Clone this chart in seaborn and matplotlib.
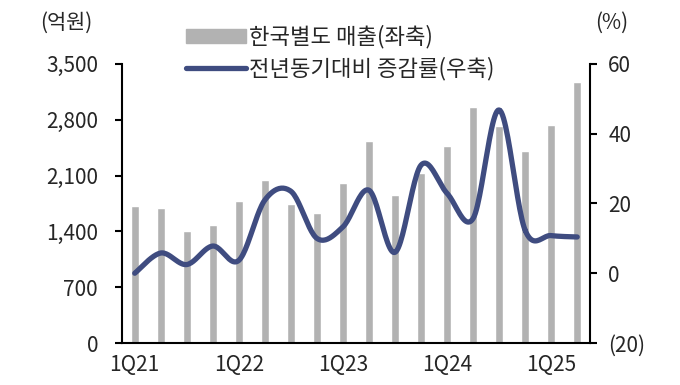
import numpy as np
import pandas as pd
import matplotlib
matplotlib.use("Agg")
import matplotlib.pyplot as plt
from matplotlib.patches import Patch
from matplotlib.lines import Line2D
import seaborn as sns

sns.set_theme(style="white")
plt.rcParams['font.family'] = ['Noto Sans CJK KR', 'DejaVu Sans']
plt.rcParams['axes.unicode_minus'] = False

# 분기
quarters = ['1Q21', '2Q21', '3Q21', '4Q21', '1Q22', '2Q22', '3Q22', '4Q22',
            '1Q23', '2Q23', '3Q23', '4Q23', '1Q24', '2Q24', '3Q24', '4Q24',
            '1Q25', '2Q25']
# 한국별도 매출 (억원)
sales = [1715, 1695, 1405, 1475, 1785, 2045, 1745, 1630,
         2010, 2535, 1850, 2135, 2465, 2965, 2725, 2405,
         2740, 3275]
# 전년동기대비 증감률 (%)
yoy = [0.0, 5.8, 2.5, 7.8, 3.7, 21.0, 23.5, 10.0,
       13.3, 23.8, 6.0, 31.0, 22.9, 15.7, 46.8, 12.3,
       10.8, 10.4]

left_ticks = [0, 700, 1400, 2100, 2800, 3500]
right_ticks = [-20, 0, 20, 40, 60]
label_quarters = ['1Q21', '1Q22', '1Q23', '1Q24', '1Q25']

df = pd.DataFrame({'quarter': quarters, 'sales': sales, 'yoy': yoy})

bar_color = '#B2B2B2'
line_color = '#3F4C80'
tick_fs = 15
legend_fs = 16

fig = plt.figure(figsize=(6.8, 3.85), dpi=100)
ax = fig.add_axes([0.179, 0.109, 0.689, 0.725])

sns.barplot(data=df, x='quarter', y='sales', order=quarters, color=bar_color,
            width=0.3, saturation=1, ax=ax)
ax.set_xlim(-0.5, len(quarters) - 0.5)
ax.set_ylim(0, 3500)
ax.set_yticks(left_ticks)
ax.set_yticklabels([f'{v:,}' for v in left_ticks])
ax.set_xlabel('')
ax.set_ylabel('')

pos = [quarters.index(q) for q in label_quarters]
ax.set_xticks(pos)
ax.set_xticklabels(label_quarters)
ax.set_xticks([p - 0.5 for p in pos], minor=True)
ax.tick_params(axis='x', which='major', length=0, pad=8, labelsize=tick_fs)
ax.tick_params(axis='x', which='minor', length=5, width=1.5, direction='out', color='black')
ax.tick_params(axis='y', length=5, width=1.5, direction='out', color='black',
               labelsize=tick_fs, pad=12)

# 우축: 증감률 (smoothed line through the data points)
ax2 = ax.twinx()
xs = np.arange(len(yoy), dtype=float)
ys = np.array(yoy, dtype=float)
px = np.concatenate([[xs[0]], xs, [xs[-1]]])
py = np.concatenate([[ys[0]], ys, [ys[-1]]])
cx, cy = [], []
t = np.linspace(0, 1, 25)
for i in range(1, len(px) - 2):
    for arr, out in ((px, cx), (py, cy)):
        p0, p1, p2, p3 = arr[i - 1], arr[i], arr[i + 1], arr[i + 2]
        seg = 0.5 * ((2 * p1) + (-p0 + p2) * t + (2 * p0 - 5 * p1 + 4 * p2 - p3) * t ** 2
                     + (-p0 + 3 * p1 - 3 * p2 + p3) * t ** 3)
        out.extend(seg)
ax2.plot(cx, cy, color=line_color, lw=3.8, solid_capstyle='round')
ax2.set_ylim(-20, 60)
ax2.set_yticks(right_ticks)
ax2.set_yticklabels([f'({-v})' if v < 0 else str(v) for v in right_ticks])
ax2.tick_params(axis='y', length=5, width=1.5, direction='out', color='black',
                labelsize=tick_fs, pad=8)
ax2.grid(False)
ax.grid(False)

for a in (ax, ax2):
    a.spines['top'].set_visible(False)
    for s in ('left', 'right', 'bottom'):
        a.spines[s].set_color('black')
        a.spines[s].set_linewidth(1.5)
ax.spines['right'].set_visible(False)
ax2.spines['left'].set_visible(False)
ax2.spines['bottom'].set_visible(False)

fig.text(0.098, 0.942, '(억원)', fontsize=tick_fs, ha='center', va='center')
fig.text(0.899, 0.942, '(%)', fontsize=tick_fs, ha='center', va='center')

handles = [Patch(color=bar_color), Line2D([0], [0], color=line_color, lw=3.8)]
labels = ['한국별도 매출(좌축)', '전년동기대비 증감률(우축)']
fig.legend(handles, labels, loc='upper left', bbox_to_anchor=(0.273, 0.935),
           frameon=False, fontsize=legend_fs, handlelength=2.7, handleheight=0.55,
           handletextpad=0.15, labelspacing=0.35, borderaxespad=0, borderpad=0)

fig.savefig('out.png', dpi=100)
